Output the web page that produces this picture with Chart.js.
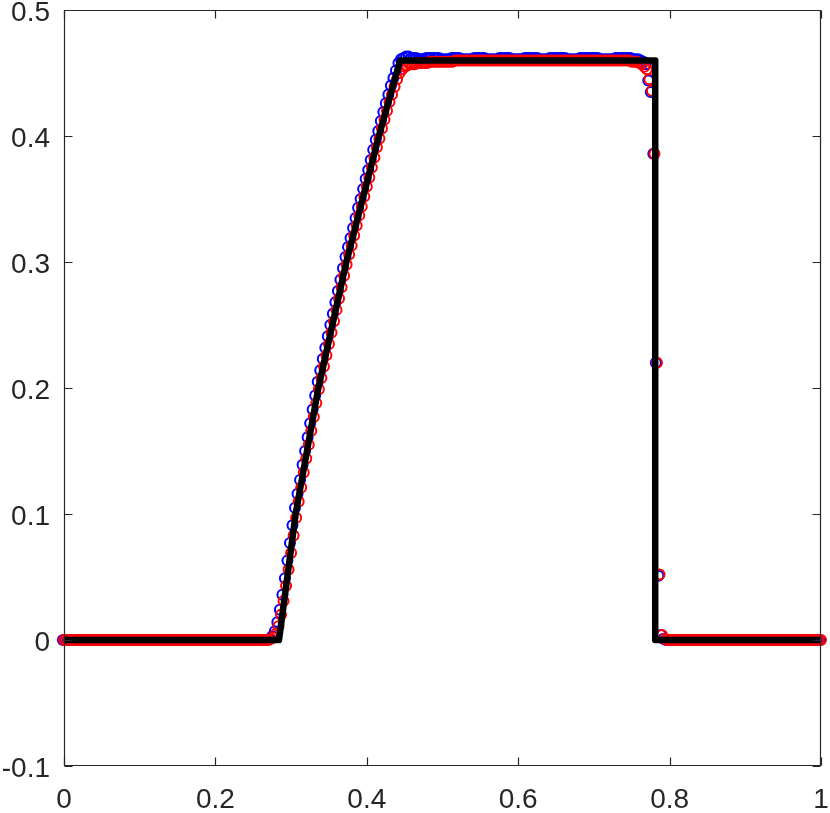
<!DOCTYPE html>
<html>
<head>
<meta charset="utf-8">
<script src="https://cdn.jsdelivr.net/npm/chart.js@4.4.1/dist/chart.umd.min.js"></script>
<style>
html,body{margin:0;padding:0;background:#fff;}
canvas{display:block;}
</style>
</head>
<body>
<canvas id="c" width="830" height="813"></canvas>
<script>
// ---- data ----
const xTicks = [0, 0.2, 0.4, 0.6, 0.8, 1];
const yTicks = [-0.1, 0, 0.1, 0.2, 0.3, 0.4, 0.5];

// mesh: 301 equally spaced nodes on [0,1]
const meshStart = 0, meshEnd = 1, meshCells = 300;
const blueMeshShift = -0.0015;

// exact solution (thick black line)
const exactX = [0, 0.284, 0.306, 0.336, 0.373, 0.416, 0.444, 0.781, 0.781, 1];
const exactU = [0, 0,     0.1,   0.2,   0.3,   0.4,   0.46,  0.46,  0,     0];

// blue circles
const blueU = [
0,0,0,0,0,0,0,0,0,0, 0,0,0,0,0,0,0,0,0,0, 0,0,0,0,0,0,0,0,0,0, 0,0,0,0,0,0,0,0,0,0,
0,0,0,0,0,0,0,0,0,0, 0,0,0,0,0,0,0,0,0,0, 0,0,0,0,0,0,0,0,0,0, 0,0,0,0,0,0,0,0,0,0,
0,0,
0.001,0.003,0.007,0.014,0.024,0.036,0.049,0.063,0.077,0.091,0.105,
0.116,0.127,0.139,0.150,0.161,0.172,0.183,0.194,0.205,0.214,
0.223,0.232,0.241,0.250,0.259,0.268,0.277,0.286,0.295,0.304,
0.312,0.319,0.327,0.335,0.343,0.350,0.358,0.366,0.373,0.381,
0.389,0.397,0.404,0.412,0.419,0.426,0.433,0.440,0.446,0.452,
0.458,0.461,0.462,
0.463,0.463,0.462,0.462,0.462,0.461,0.461,0.461,0.462,0.462,0.462,0.462,
0.462,0.462,0.461,0.461,0.461,0.461,0.462,0.462,0.462,0.462,0.461,0.461,
0.461,0.461,0.461,0.462,0.462,0.462,0.462,0.462,0.461,0.461,0.461,0.461,
0.461,0.462,0.462,0.462,0.462,0.462,0.461,0.461,0.461,0.461,0.461,0.462,
0.462,0.462,0.462,0.462,0.462,0.461,0.461,0.461,0.461,0.462,0.462,0.462,
0.462,0.462,0.462,0.462,0.461,0.461,0.461,0.461,0.461,0.462,0.462,0.462,
0.462,0.462,0.462,0.462,0.462,0.461,0.461,0.461,0.461,0.461,0.461,0.462,
0.462,0.462,0.462,0.462,0.462,0.462,0.461,0.461,0.461,0.460,0.459,0.457,
0.444,0.435,0.386,0.220,0.051,0.004,0.001,
0,0,0,0,0,0,0,0,0,0, 0,0,0,0,0,0,0,0,0,0, 0,0,0,0,0,0,0,0,0,0,
0,0,0,0,0,0,0,0,0,0, 0,0,0,0,0,0,0,0,0,0, 0,0,0,0,0,0,0,0,0,0, 0,0
];

// red circles
const redU = [
0,0,0,0,0,0,0,0,0,0, 0,0,0,0,0,0,0,0,0,0, 0,0,0,0,0,0,0,0,0,0, 0,0,0,0,0,0,0,0,0,0,
0,0,0,0,0,0,0,0,0,0, 0,0,0,0,0,0,0,0,0,0, 0,0,0,0,0,0,0,0,0,0, 0,0,0,0,0,0,0,0,0,0,
0,0,
0.001,0.002,0.005,0.011,0.020,0.031,0.043,0.056,0.069,0.083,0.097,
0.110,0.121,0.133,0.144,0.155,0.166,0.177,0.188,0.199,0.208,
0.217,0.226,0.235,0.244,0.253,0.262,0.271,0.280,0.289,0.298,
0.306,0.313,0.321,0.329,0.337,0.344,0.352,0.360,0.367,0.375,
0.383,0.391,0.398,0.406,0.413,0.420,0.427,0.433,0.439,0.445,
0.450,0.453,0.455,
0.456,0.457,0.457,0.457,0.458,0.458,0.458,0.458,0.458,0.459,0.459,0.459,
0.459,0.459,0.459,0.459,0.459,0.459,0.459,0.460,0.460,0.460,0.460,0.460,
0.460,0.460,0.460,0.460,0.460,0.460,0.460,0.460,0.460,0.460,0.460,0.460,
0.460,0.460,0.460,0.460,0.460,0.460,0.460,0.460,0.460,0.460,0.460,0.460,
0.460,0.460,0.460,0.460,0.460,0.460,0.460,0.460,0.460,0.460,0.460,0.460,
0.460,0.460,0.460,0.460,0.460,0.460,0.460,0.460,0.460,0.460,0.460,0.460,
0.460,0.460,0.460,0.460,0.460,0.460,0.460,0.460,0.460,0.460,0.460,0.460,
0.460,0.460,0.460,0.460,0.460,0.459,0.459,0.459,0.458,0.457,0.455,0.453,
0.445,0.436,0.386,0.220,0.052,0.004,0.001,
0,0,0,0,0,0,0,0,0,0, 0,0,0,0,0,0,0,0,0,0, 0,0,0,0,0,0,0,0,0,0,
0,0,0,0,0,0,0,0,0,0, 0,0,0,0,0,0,0,0,0,0, 0,0,0,0,0,0,0,0,0,0, 0,0
];

// ---- build ----
const meshX = Array.from({length: meshCells + 1}, (_, i) => meshStart + (meshEnd - meshStart) * i / meshCells);
const exactPts = exactX.map((x, i) => ({x, y: exactU[i]}));
const bluePts = blueU.map((u, i) => ({x: meshX[i] + blueMeshShift, y: u}));
const redPts = redU.map((u, i) => ({x: meshX[i], y: u}));

const AXIS_COLOR = '#262626';
const FONT = {family: '"Liberation Sans", Arial, Helvetica, sans-serif', size: 28};

const boxPlugin = {
  id: 'matlabBox',
  afterDatasetsDraw(chart) {
    const {ctx, chartArea: a, scales} = chart;
    const L = Math.round(a.left) + 0.5, R = Math.round(a.right) - 0.5;
    const T = Math.round(a.top) + 0.5, B = Math.round(a.bottom) - 0.5;
    ctx.save();
    ctx.strokeStyle = AXIS_COLOR;
    ctx.lineWidth = 1.2;
    ctx.beginPath();
    ctx.rect(L, T, R - L, B - T);
    ctx.stroke();
    const tl = 8;
    ctx.beginPath();
    xTicks.forEach(v => {
      const px = Math.round(scales.x.getPixelForValue(v)) + 0.5;
      ctx.moveTo(px, B); ctx.lineTo(px, B - tl);
      ctx.moveTo(px, T); ctx.lineTo(px, T + tl);
    });
    yTicks.forEach(v => {
      const py = Math.round(scales.y.getPixelForValue(v)) + 0.5;
      ctx.moveTo(L, py); ctx.lineTo(L + tl, py);
      ctx.moveTo(R, py); ctx.lineTo(R - tl, py);
    });
    ctx.stroke();
    ctx.restore();
  }
};

function zeroPad(ax) {
  ax.paddingLeft = 0; ax.paddingRight = 0; ax.paddingTop = 0; ax.paddingBottom = 0;
}

new Chart(document.getElementById('c'), {
  type: 'scatter',
  data: {
    datasets: [
      {
        label: 'exact',
        data: exactPts,
        showLine: true,
        borderColor: '#000000',
        borderWidth: 6.5,
        borderJoinStyle: 'round',
        borderCapStyle: 'butt',
        pointRadius: 0,
        pointHoverRadius: 0,
        tension: 0,
        clip: false
      },
      {
        label: 'red',
        data: redPts,
        showLine: false,
        pointStyle: 'circle',
        pointRadius: 5,
        pointBorderWidth: 2,
        pointBorderColor: '#ff0000',
        pointBackgroundColor: 'rgba(0,0,0,0)',
        clip: false
      },
      {
        label: 'blue',
        data: bluePts,
        showLine: false,
        pointStyle: 'circle',
        pointRadius: 5,
        pointBorderWidth: 2,
        pointBorderColor: '#0000ff',
        pointBackgroundColor: 'rgba(0,0,0,0)',
        clip: false
      }
    ]
  },
  options: {
    responsive: false,
    devicePixelRatio: 1,
    animation: false,
    events: [],
    layout: {padding: {top: 10, right: 9, left: 0, bottom: 0}},
    plugins: {legend: {display: false}, tooltip: {enabled: false}},
    scales: {
      x: {
        type: 'linear', min: 0, max: 1,
        afterBuildTicks: ax => { ax.ticks = xTicks.map(v => ({value: v})); },
        afterFit: ax => { ax.height = 47; zeroPad(ax); },
        grid: {display: false, drawTicks: false},
        border: {display: false},
        ticks: {
          color: AXIS_COLOR, font: FONT, padding: 17, maxRotation: 0, autoSkip: false,
          callback: v => String(Math.round(v * 10) / 10)
        }
      },
      y: {
        type: 'linear', min: -0.1, max: 0.5,
        afterBuildTicks: ax => { ax.ticks = yTicks.map(v => ({value: v})); },
        afterFit: ax => { ax.width = 64; zeroPad(ax); },
        grid: {display: false, drawTicks: false},
        border: {display: false},
        ticks: {
          color: AXIS_COLOR, font: FONT, padding: 14, labelOffset: 3, autoSkip: false,
          callback: v => String(Math.round(v * 10) / 10)
        }
      }
    }
  },
  plugins: [boxPlugin]
});
</script>
</body>
</html>
